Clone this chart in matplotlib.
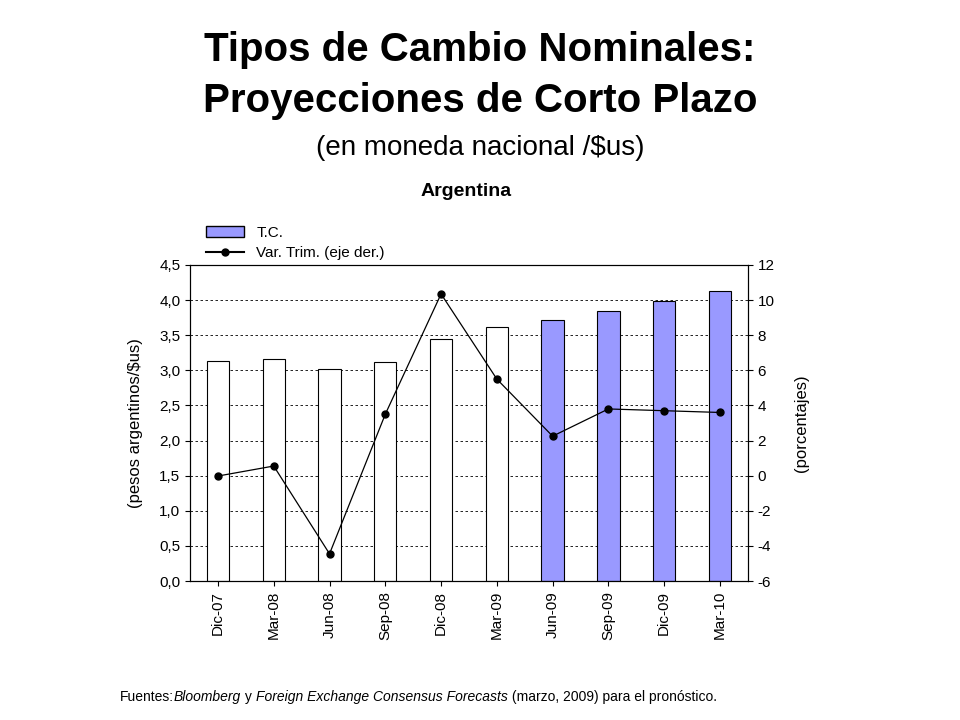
import matplotlib
matplotlib.use("Agg")
import matplotlib.pyplot as plt
from matplotlib.lines import Line2D
from matplotlib.patches import Patch

plt.rcParams["font.family"] = "Liberation Sans"
plt.rcParams["axes.unicode_minus"] = False

categories = ["Dic-07","Mar-08","Jun-08","Sep-08","Dic-08","Mar-09","Jun-09","Sep-09","Dic-09","Mar-10"]
tc = [3.13, 3.16, 3.02, 3.12, 3.45, 3.62, 3.71, 3.85, 3.99, 4.13]
var_trim = [-0.02, 0.55, -4.45, 3.5, 10.35, 5.5, 2.25, 3.8, 3.7, 3.6]
forecast = [False]*6 + [True]*4

fig = plt.figure(figsize=(9.6, 7.2), dpi=100)
ax = fig.add_axes([0.198, 0.193, 0.581, 0.439])
x = list(range(len(categories)))
colors = ["#9999FF" if f else "white" for f in forecast]
ax.bar(x, tc, width=0.4, color=colors, edgecolor="black", linewidth=0.8, zorder=2)
ax.set_xlim(-0.5, len(categories)-0.5)
ax.set_ylim(0, 4.5)
ax.set_yticks([i*0.5 for i in range(10)])
ax.set_yticklabels([f"{i*0.5:.1f}".replace(".", ",") for i in range(10)], fontsize=11)
ax.set_xticks(x)
ax.set_xticklabels(categories, rotation=90, fontsize=11)
ax.grid(axis="y", linestyle=(0, (3, 3)), color="black", linewidth=0.6, zorder=0)
ax.set_ylabel("(pesos argentinos/$us)", fontsize=12, labelpad=12)

ax2 = ax.twinx()
ax2.plot(x, var_trim, color="black", linewidth=0.9, marker="o", markersize=5)
ax2.set_ylim(-6, 12)
ax2.set_yticks(range(-6, 13, 2))
ax2.tick_params(labelsize=11)
ax2.set_ylabel("(porcentajes)", fontsize=12, labelpad=14)

handles = [Patch(facecolor="#9999FF", edgecolor="black", label="T.C."),
           Line2D([0], [0], color="black", marker="o", markersize=5, label="Var. Trim. (eje der.)")]
fig.legend(handles=handles, loc="upper left", bbox_to_anchor=(0.2, 0.705), frameon=False,
           fontsize=11, handlelength=2.5, labelspacing=0.4)

fig.text(0.5, 0.915, "Tipos de Cambio Nominales:", ha="center", fontsize=29, fontweight="bold")
fig.text(0.5, 0.845, "Proyecciones de Corto Plazo", ha="center", fontsize=29, fontweight="bold")
fig.text(0.5, 0.785, "(en moneda nacional /$us)", ha="center", fontsize=20)
fig.text(0.485, 0.728, "Argentina", ha="center", fontsize=14, fontweight="bold")

parts = [("Fuentes:", "normal"), ("Bloomberg", "italic"), (" y ", "normal"),
         ("Foreign Exchange Consensus Forecasts", "italic"),
         (" (marzo, 2009) para el pronóstico.", "normal")]
prev = fig.text(0.125, 0.027, parts[0][0], fontsize=10)
for s, st in parts[1:]:
    prev = fig.text(0, 0, s, fontsize=10, style=st)
    prev.set_transform(matplotlib.transforms.offset_copy(
        fig.transFigure, fig=fig, x=0, y=0))
texts = fig.texts[-len(parts):]
fig.canvas.draw()
r = fig.canvas.get_renderer()
xpos = 0.125
for t in texts:
    t.set_position((xpos, 0.027))
    t.set_transform(fig.transFigure)
    bb = t.get_window_extent(r)
    xpos += bb.width / fig.bbox.width

fig.savefig("out.png", dpi=100)
